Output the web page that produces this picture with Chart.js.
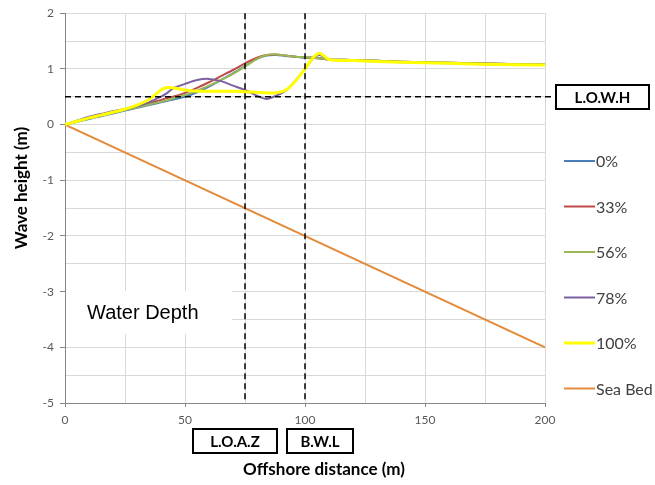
<!DOCTYPE html>
<html>
<head>
<meta charset="utf-8">
<script src="https://cdn.jsdelivr.net/npm/chart.js@4.4.0/dist/chart.umd.min.js"></script>
<style>
  html, body { margin: 0; padding: 0; background: #fff; }
  #wrap { width: 655px; height: 485px; }
</style>
</head>
<body>
<div id="wrap"><canvas id="waveChart" width="655" height="485"></canvas></div>
<script>
// Offshore distance (m) used by all wave series
const distances = [0, 5, 10, 15, 20, 25, 30, 35, 40, 42, 45, 50, 55, 60, 65, 70, 75, 80, 84, 88, 92, 96, 100, 103, 106, 110, 120, 140, 160, 180, 200];

// Wave height (m) for each percentage
const h0 = [0, 0.05, 0.10, 0.15, 0.20, 0.25, 0.30, 0.35, 0.40, 0.42, 0.45, 0.50, 0.58, 0.68, 0.80, 0.92, 1.05, 1.18, 1.24, 1.25, 1.23, 1.22, 1.20, 1.20, 1.19, 1.17, 1.16, 1.13, 1.11, 1.09, 1.08];
const h33 = [0, 0.06, 0.12, 0.17, 0.22, 0.27, 0.32, 0.38, 0.44, 0.47, 0.50, 0.57, 0.66, 0.76, 0.87, 0.98, 1.10, 1.20, 1.25, 1.26, 1.24, 1.22, 1.21, 1.20, 1.19, 1.17, 1.16, 1.13, 1.11, 1.09, 1.08];
const h56 = [0, 0.05, 0.11, 0.16, 0.21, 0.26, 0.31, 0.36, 0.41, 0.43, 0.47, 0.53, 0.61, 0.70, 0.80, 0.91, 1.04, 1.18, 1.25, 1.26, 1.24, 1.22, 1.21, 1.20, 1.19, 1.17, 1.16, 1.13, 1.11, 1.09, 1.08];
const h78 = [0, 0.07, 0.14, 0.19, 0.24, 0.28, 0.33, 0.40, 0.50, 0.55, 0.65, 0.73, 0.80, 0.82, 0.78, 0.70, 0.62, 0.52, 0.46, 0.52, 0.61, 0.79, 1.00, 1.17, 1.25, 1.17, 1.15, 1.12, 1.10, 1.08, 1.07];
const h100 = [0, 0.06, 0.12, 0.17, 0.22, 0.28, 0.35, 0.45, 0.62, 0.66, 0.66, 0.62, 0.60, 0.60, 0.60, 0.60, 0.59, 0.58, 0.57, 0.57, 0.62, 0.78, 1.00, 1.18, 1.28, 1.17, 1.15, 1.12, 1.10, 1.08, 1.07];

// Sea bed profile
const bedDistance = [0, 200];
const bedDepth = [0, -4];

// Reference lines and labels
const lowhLevel = 0.5;
const loazDistance = 75;
const bwlDistance = 100;

const seriesNames = ['0%', '33%', '56%', '78%', '100%', 'Sea Bed'];
const seriesColors = ['#4A7EBB', '#BE4B48', '#98B954', '#7D60A0', '#FFFF00', '#E38B3B'];

function toPoints(xs, ys) {
  return xs.map((x, i) => ({ x: x, y: ys[i] }));
}

const waves = [h0, h33, h56, h78, h100];
const datasets = waves.map((vals, i) => ({
  label: seriesNames[i],
  data: toPoints(distances, vals),
  borderColor: seriesColors[i],
  borderWidth: i === 4 ? 3 : 2,
  pointRadius: 0,
  tension: 0.3,
  order: 5 - i,
}));
datasets.push({
  label: seriesNames[5],
  data: toPoints(bedDistance, bedDepth),
  borderColor: seriesColors[5],
  borderWidth: 2,
  pointRadius: 0,
  order: 6,
});

function labelBox(ctx, text, x, y, w, h) {
  ctx.save();
  ctx.fillStyle = '#fff';
  ctx.fillRect(x, y, w, h);
  ctx.strokeStyle = '#000';
  ctx.lineWidth = 2;
  ctx.strokeRect(x, y, w, h);
  ctx.fillStyle = '#000';
  ctx.font = 'bold 15px Lato';
  ctx.textAlign = 'center';
  ctx.textBaseline = 'middle';
  ctx.fillText(text, x + w / 2, y + h / 2 + 1);
  ctx.restore();
}

const extras = {
  id: 'extras',
  beforeDatasetsDraw(chart) {
    const ctx = chart.ctx;
    // white patch behind "Water Depth"
    ctx.save();
    ctx.fillStyle = '#fff';
    ctx.fillRect(66, 291, 166, 43);
    ctx.fillStyle = '#000';
    ctx.font = '20px "Liberation Sans"';
    ctx.textBaseline = 'middle';
    ctx.fillText('Water Depth', 87, 313);
    ctx.restore();
  },
  afterDatasetsDraw(chart) {
    const ctx = chart.ctx;
    const xs = chart.scales.x;
    const ys = chart.scales.y;
    const area = chart.chartArea;
    ctx.save();
    ctx.strokeStyle = '#000';
    ctx.lineWidth = 1.5;
    ctx.setLineDash([6, 4]);
    const yl = ys.getPixelForValue(lowhLevel);
    ctx.beginPath();
    ctx.moveTo(area.left, yl);
    ctx.lineTo(area.right + 10, yl);
    ctx.stroke();
    [loazDistance, bwlDistance].forEach((d) => {
      const xp = xs.getPixelForValue(d);
      ctx.beginPath();
      ctx.moveTo(xp, area.top);
      ctx.lineTo(xp, area.bottom);
      ctx.stroke();
    });
    ctx.restore();

    labelBox(ctx, 'L.O.W.H', 556, 85, 93, 24);
    labelBox(ctx, 'L.O.A.Z', 193, 429, 84, 24);
    labelBox(ctx, 'B.W.L', 287, 429, 66, 24);

    // axis titles
    ctx.save();
    ctx.fillStyle = '#000';
    ctx.font = 'bold 17px Lato';
    ctx.textAlign = 'center';
    ctx.textBaseline = 'middle';
    ctx.fillText('Offshore distance (m)', 324, 470);
    ctx.translate(22, 188);
    ctx.rotate(-Math.PI / 2);
    ctx.fillText('Wave height (m)', 0, 0);
    ctx.restore();

    // legend
    ctx.save();
    ctx.font = '16px Lato';
    ctx.textBaseline = 'middle';
    chart.data.datasets.forEach((ds, i) => {
      const y = 161 + i * 45.5;
      ctx.strokeStyle = ds.borderColor;
      ctx.lineWidth = i === 4 ? 3 : 2;
      ctx.beginPath();
      ctx.moveTo(564, y);
      ctx.lineTo(595, y);
      ctx.stroke();
      ctx.fillStyle = '#404040';
      ctx.fillText(ds.label, 596, y + 1);
    });
    ctx.restore();
  },
};

const ctx = document.getElementById('waveChart').getContext('2d');
new Chart(ctx, {
  type: 'line',
  data: { datasets: datasets },
  plugins: [extras],
  options: {
    responsive: false,
    animation: false,
    layout: { padding: { top: 12, right: 110, bottom: 0, left: 0 } },
    plugins: {
      legend: { display: false },
      tooltip: { enabled: false },
    },
    scales: {
      x: {
        type: 'linear',
        min: 0,
        max: 200,
        afterFit: (scale) => { scale.height = 82; },
        ticks: {
          stepSize: 25,
          autoSkip: false,
          color: '#595959',
          font: { family: 'Lato', size: 12 },
          padding: 6,
          callback: (v) => (v % 50 === 0 ? v : ''),
        },
        grid: {
          color: '#D9D9D9',
          tickLength: 4,
          tickColor: (c) => (c.tick && c.tick.value % 50 === 0 ? '#868686' : 'rgba(0,0,0,0)'),
        },
        border: { color: '#868686' },
      },
      y: {
        min: -5,
        max: 2,
        afterFit: (scale) => { scale.width = 65; },
        ticks: {
          stepSize: 0.5,
          autoSkip: false,
          color: '#595959',
          font: { family: 'Lato', size: 12 },
          padding: 6,
          callback: (v) => (Number.isInteger(v) ? v : ''),
        },
        grid: {
          color: '#D9D9D9',
          tickLength: 5,
          tickColor: (c) => (c.tick && Number.isInteger(c.tick.value) ? '#868686' : 'rgba(0,0,0,0)'),
        },
        border: { color: '#868686' },
      },
    },
  },
});
</script>
</body>
</html>
